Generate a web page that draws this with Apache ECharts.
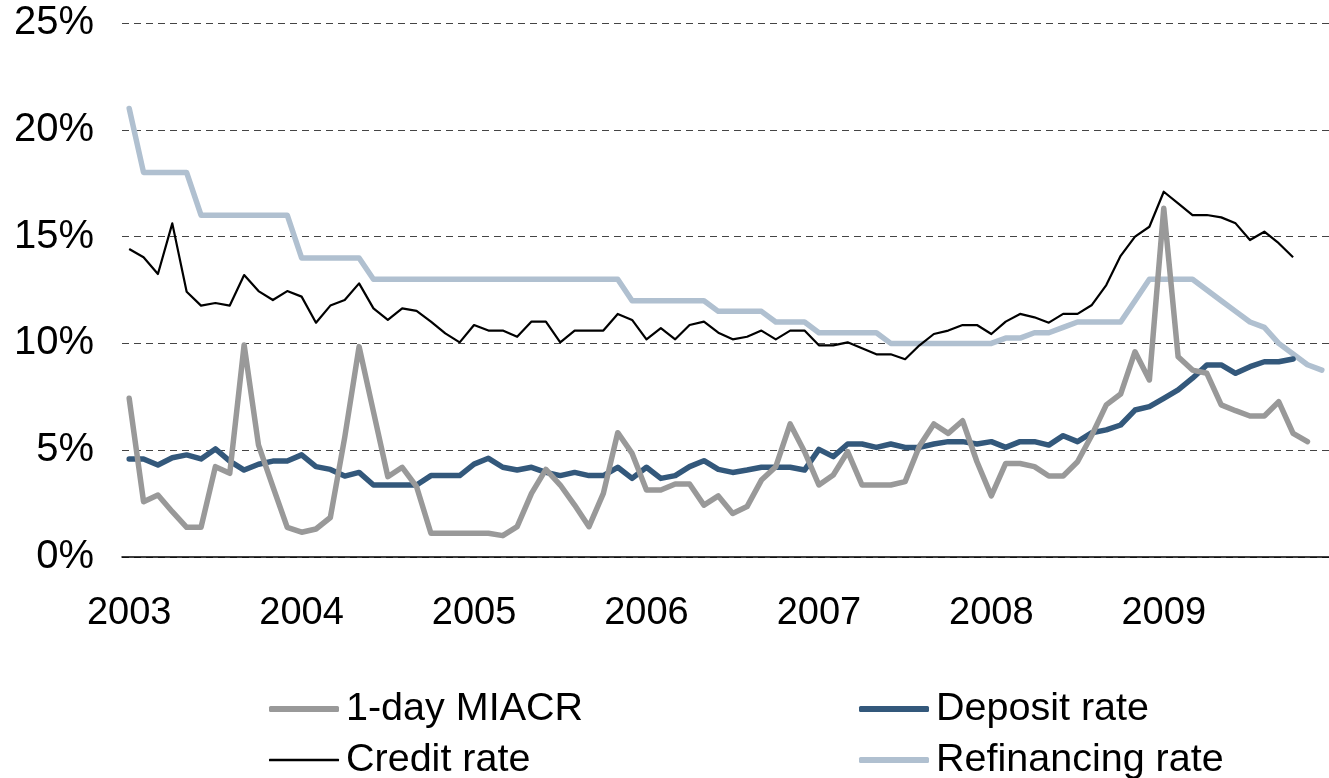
<!DOCTYPE html>
<html>
<head>
<meta charset="utf-8">
<script src="https://cdn.jsdelivr.net/npm/echarts@6/dist/echarts.min.js"></script>
<style>
  html, body { margin: 0; padding: 0; background: #fff; }
  #chart { width: 1329px; height: 778px; }
</style>
</head>
<body>
<div id="chart"></div>
<script>
// monthly, Jan 2003 .. Dec 2009
const years = ['2003', '2004', '2005', '2006', '2007', '2008', '2009'];
const months = [];
years.forEach(function (y) {
    for (let m = 1; m <= 12; m++) {
        months.push(y + '-' + (m < 10 ? '0' + m : m));
    }
});

const miacr = [
    7.43, 2.59, 2.9, 2.12, 1.39, 1.39, 4.23, 3.92, 9.93, 5.24, 3.29, 1.39,
    1.16, 1.31, 1.85, 5.6, 9.85, 6.8, 3.76, 4.2, 3.29, 1.11, 1.11, 1.11,
    1.11, 1.11, 1.0, 1.42, 2.98, 4.1, 3.37, 2.43, 1.42, 2.98, 5.82, 4.85,
    3.14, 3.14, 3.42, 3.42, 2.43, 2.86, 2.04, 2.36, 3.6, 4.23, 6.23, 4.93,
    3.37, 3.84, 4.93, 3.37, 3.37, 3.37, 3.53, 5.2, 6.23, 5.79, 6.38, 4.46,
    2.86, 4.38, 4.38, 4.23, 3.79, 3.79, 4.46, 5.71, 7.12, 7.63, 9.61, 8.29,
    16.33, 9.38, 8.75, 8.6, 7.12, 6.85, 6.6, 6.6, 7.27, 5.79, 5.4
];
const depositRate = [
    4.59, 4.59, 4.31, 4.65, 4.78, 4.59, 5.06, 4.49, 4.07, 4.34, 4.49, 4.49,
    4.78, 4.23, 4.1, 3.79, 3.96, 3.37, 3.37, 3.37, 3.37, 3.81, 3.81, 3.81,
    4.35, 4.62, 4.2, 4.07, 4.2, 3.96, 3.81, 3.96, 3.81, 3.81, 4.2, 3.68,
    4.2, 3.68, 3.81, 4.23, 4.51, 4.1, 3.96, 4.07, 4.2, 4.2, 4.2, 4.07,
    5.04, 4.7, 5.29, 5.29, 5.13, 5.29, 5.13, 5.13, 5.29, 5.4, 5.4, 5.29,
    5.4, 5.13, 5.4, 5.4, 5.24, 5.68, 5.4, 5.82, 5.95, 6.18, 6.88, 7.04,
    7.43, 7.82, 8.37, 8.99, 8.99, 8.6, 8.91, 9.14, 9.14, 9.27
];
const creditRate = [
    14.42, 14.03, 13.25, 15.62, 12.42, 11.77, 11.89, 11.77, 13.2, 12.45, 12.03, 12.45,
    12.19, 10.97, 11.77, 12.03, 12.81, 11.64, 11.1, 11.64, 11.52, 11.02, 10.47, 10.05,
    10.86, 10.6, 10.6, 10.31, 11.02, 11.02, 10.05, 10.6, 10.6, 10.6, 11.38, 11.1,
    10.19, 10.71, 10.19, 10.86, 11.02, 10.5, 10.19, 10.31, 10.6, 10.19, 10.6, 10.6,
    9.91, 9.91, 10.05, 9.77, 9.49, 9.49, 9.26, 9.91, 10.44, 10.6, 10.86, 10.86,
    10.44, 11.02, 11.38, 11.22, 10.97, 11.38, 11.38, 11.8, 12.73, 14.1, 15.0, 15.46,
    17.1, 16.56, 16.01, 16.01, 15.9, 15.62, 14.84, 15.23, 14.69, 14.03
];
const refinancingRate = [
    21, 18, 18, 18, 18, 16, 16, 16, 16, 16, 16, 16,
    14, 14, 14, 14, 14, 13, 13, 13, 13, 13, 13, 13,
    13, 13, 13, 13, 13, 13, 13, 13, 13, 13, 13, 12,
    12, 12, 12, 12, 12, 11.5, 11.5, 11.5, 11.5, 11, 11, 11,
    10.5, 10.5, 10.5, 10.5, 10.5, 10, 10, 10, 10, 10, 10, 10,
    10, 10.25, 10.25, 10.5, 10.5, 10.75, 11, 11, 11, 11, 12, 13,
    13, 13, 13, 12.5, 12, 11.5, 11, 10.75, 10, 9.5, 9, 8.75
];

const yTicks = [0, 5, 10, 15, 20, 25];

const font = '"Liberation Sans", Arial, sans-serif';

let myChart = echarts.init(document.getElementById('chart'));

function legendAt (name, left, top, thick, color) {
    return {
        data: [name],
        left: left,
        top: top,
        icon: 'roundRect',
        itemWidth: 70,
        itemHeight: thick,
        itemStyle: { color: color },
        textStyle: {
            fontFamily: font,
            fontSize: 39.5,
            color: '#000',
            lineHeight: 42,
            padding: [0, 0, 0, 2]
        }
    }
}

myChart.setOption({
    animation: false,
    grid: {
        left: 122,
        right: -10,
        top: 23,
        bottom: 221
    },
    legend: [
        legendAt('1-day MIACR', 264, 683, 6, '#999999'),
        legendAt('Credit rate', 264, 734, 2.5, '#000000'),
        legendAt('Deposit rate', 854, 683, 6, '#33587b'),
        legendAt('Refinancing rate', 854, 734, 6, '#b0c0d0')
    ],
    xAxis: {
        type: 'category',
        data: months,
        boundaryGap: true,
        axisLine: { lineStyle: { color: '#000', width: 1.5 } },
        axisTick: { interval: 11, length: 10, lineStyle: { color: '#000', width: 1 } },
        axisLabel: {
            interval: 11,
            margin: 38,
            fontFamily: font,
            fontSize: 38,
            color: '#000',
            formatter: function (v) { return v.slice(0, 4); }
        },
        splitLine: { show: false }
    },
    yAxis: {
        type: 'value',
        min: yTicks[0],
        max: yTicks[yTicks.length - 1],
        interval: 5,
        axisLine: { show: false },
        axisTick: { show: false },
        axisLabel: {
            margin: 28,
            fontFamily: font,
            fontSize: 40,
            color: '#000',
            formatter: '{value}%'
        },
        splitLine: {
            lineStyle: { color: '#444', width: 1, type: [7, 5] }
        }
    },
    series: [
        {
            name: 'Refinancing rate',
            type: 'line',
            data: refinancingRate,
            symbol: 'none',
            z: 2,
            lineStyle: { color: '#b0c0d0', width: 5.5, cap: 'round', join: 'round' },
            itemStyle: { color: '#b0c0d0' }
        },
        {
            name: 'Deposit rate',
            type: 'line',
            data: depositRate,
            symbol: 'none',
            z: 3,
            lineStyle: { color: '#33587b', width: 5.5, cap: 'round', join: 'round' },
            itemStyle: { color: '#33587b' }
        },
        {
            name: '1-day MIACR',
            type: 'line',
            data: miacr,
            symbol: 'none',
            z: 4,
            lineStyle: { color: '#999999', width: 5.5, cap: 'round', join: 'round' },
            itemStyle: { color: '#999999' }
        },
        {
            name: 'Credit rate',
            type: 'line',
            data: creditRate,
            symbol: 'none',
            z: 5,
            lineStyle: { color: '#000000', width: 2.2, join: 'round' },
            itemStyle: { color: '#000000' }
        }
    ]
})
</script>
</body>
</html>
